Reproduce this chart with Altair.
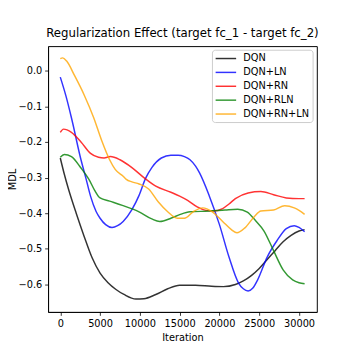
import altair as alt
import pandas as pd

series_names = ["DQN", "DQN+LN", "DQN+RN", "DQN+RLN", "DQN+RN+LN"]
series_colors = ["black", "blue", "red", "green", "orange"]

dqn_x = [0, 500, 1000, 2000, 3000, 4000, 5000, 6000, 7000, 8000, 9500, 10500, 12000, 13500,
         15000, 17000, 19000, 20500, 22000, 23000, 24000, 25000, 26000, 27000, 28000, 29000,
         30000, 30700]
dqn_y = [-0.245, -0.29, -0.33, -0.40, -0.465, -0.525, -0.568, -0.595, -0.614, -0.628, -0.641,
         -0.640, -0.628, -0.612, -0.602, -0.602, -0.605, -0.606, -0.600, -0.590, -0.575, -0.555,
         -0.530, -0.505, -0.480, -0.462, -0.450, -0.446]

ln_x = [0, 700, 1400, 2600, 3200, 3800, 4500, 5000, 5700, 6500, 7200, 7900, 9000, 9900, 10700,
        11500, 12700, 13900, 14800, 15600, 16300, 17000, 17500, 18700, 20000, 21200, 22400,
        23000, 23600, 24200, 24800, 26000, 27200, 28400, 29400, 30000, 30700]
ln_y = [-0.018, -0.07, -0.132, -0.25, -0.300, -0.352, -0.395, -0.414, -0.432, -0.440, -0.435,
        -0.423, -0.390, -0.350, -0.303, -0.272, -0.245, -0.237, -0.237, -0.241, -0.250, -0.268,
        -0.287, -0.350, -0.432, -0.523, -0.596, -0.612, -0.618, -0.610, -0.587, -0.523, -0.478,
        -0.443, -0.435, -0.440, -0.452]

rn_x = [0, 400, 1400, 2600, 3800, 4800, 5500, 6300, 7500, 9000, 10500, 12000, 13900, 15000,
        16000, 17200, 18300, 19200, 20400, 21200, 22000, 23600, 25200, 26800, 28400, 30000, 30700]
rn_y = [-0.173, -0.164, -0.173, -0.200, -0.232, -0.243, -0.245, -0.241, -0.250, -0.272, -0.300,
        -0.324, -0.341, -0.352, -0.364, -0.382, -0.392, -0.394, -0.387, -0.374, -0.359, -0.343,
        -0.339, -0.348, -0.357, -0.359, -0.359]

rln_x = [0, 500, 1400, 2600, 3600, 4300, 5000, 6200, 7800, 9900, 11500, 12500, 13900, 15000,
         16300, 18700, 20700, 22300, 23500, 24500, 25600, 26800, 28000, 29200, 30000, 30700]
rln_y = [-0.243, -0.235, -0.241, -0.273, -0.305, -0.335, -0.357, -0.366, -0.378, -0.396, -0.416,
         -0.423, -0.414, -0.404, -0.396, -0.394, -0.391, -0.389, -0.397, -0.420, -0.450, -0.505,
         -0.559, -0.587, -0.595, -0.598]

rnln_x = [0, 300, 800, 1800, 3000, 4200, 5200, 6200, 6900, 7900, 8300, 9000, 9900, 11100, 12300,
          13500, 14700, 15600, 16700, 17900, 19100, 20400, 21500, 22200, 23200, 24400, 25200,
          26800, 28200, 29400, 30000, 30700]
rnln_y = [0.034, 0.036, 0.027, -0.014, -0.068, -0.132, -0.196, -0.250, -0.277, -0.296, -0.305,
          -0.312, -0.318, -0.332, -0.368, -0.396, -0.414, -0.414, -0.396, -0.385, -0.396, -0.423,
          -0.446, -0.455, -0.441, -0.409, -0.394, -0.391, -0.379, -0.385, -0.392, -0.403]

x_ticks = [0, 5000, 10000, 15000, 20000, 25000, 30000]
y_ticks = [-0.6, -0.5, -0.4, -0.3, -0.2, -0.1, 0.0]

rows = []
for name, xs, ys in zip(series_names,
                        [dqn_x, ln_x, rn_x, rln_x, rnln_x],
                        [dqn_y, ln_y, rn_y, rln_y, rnln_y]):
    for xv, yv in zip(xs, ys):
        rows.append({"series": name, "iteration": xv, "mdl": yv})
df = pd.DataFrame(rows)

FONT = "DejaVu Sans"

chart = alt.Chart(df).mark_line(strokeWidth=1.5, opacity=0.8, interpolate="monotone").encode(
    x=alt.X("iteration:Q",
            scale=alt.Scale(domain=[-1535, 32235], nice=False, zero=False),
            axis=alt.Axis(title="Iteration", values=x_ticks, format="d", grid=False,
                          titleY=26, titleBaseline="middle")),
    y=alt.Y("mdl:Q",
            scale=alt.Scale(domain=[-0.677, 0.069], nice=False, zero=False),
            axis=alt.Axis(title="MDL", values=y_ticks, format=".1f", grid=False,
                          titleX=-36, titleBaseline="middle", titleAngle=-90)),
    color=alt.Color("series:N",
                    scale=alt.Scale(domain=series_names, range=series_colors),
                    legend=alt.Legend(title=None, orient="none", legendX=167.7, legendY=3.7,
                                      symbolType="M-1,0H3", symbolSize=110.25,
                                      symbolStrokeWidth=1.5, symbolOpacity=0.8,
                                      labelFont=FONT, labelFontSize=10, labelColor="black",
                                      labelOffset=17, rowPadding=3.2, padding=3,
                                      strokeColor="#cccccc", cornerRadius=3,
                                      fillColor="white")),
    detail="series:N",
).properties(
    width=275, height=272,
    title=alt.TitleParams("Regularization Effect (target fc_1 - target fc_2)",
                          font=FONT, fontSize=12, fontWeight="normal", color="black",
                          anchor="middle", offset=6),
    autosize=alt.AutoSizeParams(type="none"),
    padding={"left": 41, "top": 35, "right": 36, "bottom": 37},
).configure_view(
    stroke="black", strokeWidth=1
).configure_axis(
    labelFont=FONT, labelFontSize=10, labelColor="black",
    titleFont=FONT, titleFontSize=10, titleFontWeight="normal", titleColor="black",
    tickColor="black", tickSize=3.5, tickWidth=0.8, domainColor="black", domainWidth=0.8,
    labelPadding=3
)

chart.save("out.html", embed_options={"renderer": "svg", "actions": False})
